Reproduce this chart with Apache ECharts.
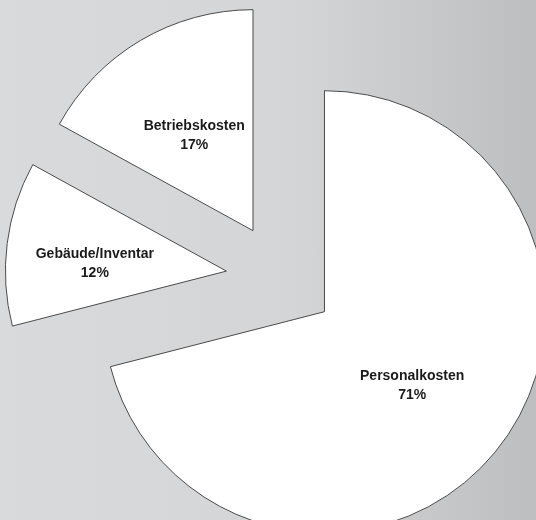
<!DOCTYPE html>
<html>
<head>
<meta charset="utf-8">
<script src="https://cdn.jsdelivr.net/npm/echarts@6/dist/echarts.min.js"></script>
<style>
html,body{margin:0;padding:0;}
#chart{width:536px;height:520px;background:linear-gradient(to right,#d9dadc 0%,#d4d5d7 55%,#bdbec0 100%);}
</style>
</head>
<body>
<div id="chart"></div>
<script>
const categories = ['Personalkosten', 'Gebäude/Inventar', 'Betriebskosten'];
const values = [71, 12, 17];
const percentLabels = ['71%', '12%', '17%'];

const labelNudge = [[-2, 4], [-19, 7], [-1, 3]];

const chart = echarts.init(document.getElementById('chart'), null, {renderer: 'canvas'});
const data = categories.map((c, i) => ({
  name: c,
  value: values[i],
  selected: true
}));
chart.setOption({
  animation: false,
  backgroundColor: 'transparent',
  series: [{
    type: 'pie',
    center: [281, 278],
    radius: [0, 221],
    startAngle: 90,
    clockwise: true,
    selectedMode: 'multiple',
    selectedOffset: 55,
    avoidLabelOverlap: false,
    data: data,
    itemStyle: { color: '#ffffff', borderColor: '#4a4a4a', borderWidth: 1 },
    select: { itemStyle: { color: '#ffffff', borderColor: '#4a4a4a', borderWidth: 1 } },
    emphasis: { disabled: true },
    labelLine: { show: false },
    labelLayout: function (p) {
      const n = labelNudge[p.dataIndex];
      return { dx: n[0], dy: n[1] };
    },
    label: {
      show: true,
      position: 'inner',
      formatter: p => p.name + '\n' + percentLabels[p.dataIndex],
      fontFamily: '"Liberation Sans", Arial, sans-serif',
      fontWeight: 'bold',
      fontSize: 14,
      lineHeight: 19,
      color: '#1a1a1a'
    }
  }]
});
</script>
</body>
</html>
